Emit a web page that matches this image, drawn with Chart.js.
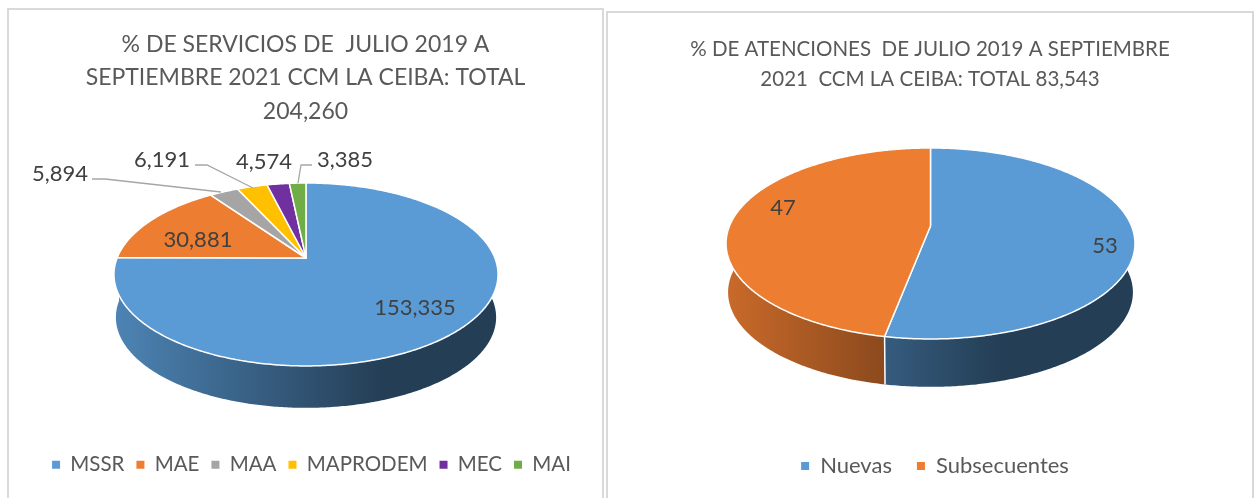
<!DOCTYPE html>
<html lang="es">
<head>
<meta charset="utf-8">
<title>CCM La Ceiba</title>
<style>
html,body{margin:0;padding:0;background:#fff;width:1256px;height:498px;overflow:hidden}
.panel{position:absolute;box-sizing:border-box;background:#fff;border:2px solid #d9d9d9;border-bottom:none}
canvas{display:block}
#p1{left:7px;top:8px;width:597px;height:490px}
#p2{left:606px;top:11px;width:648px;height:487px}
</style>
<script src="https://cdn.jsdelivr.net/npm/chart.js@4/dist/chart.umd.min.js"></script>
</head>
<body>
<div class="panel" id="p1"><canvas id="c1" width="593" height="490"></canvas></div>
<div class="panel" id="p2"><canvas id="c2" width="644" height="487"></canvas></div>
<script>
const serviceCategories = ["MSSR","MAE","MAA","MAPRODEM","MEC","MAI"];
const serviceValues = [153335,30881,5894,6191,4574,3385];
const serviceColors = ["#5B9BD5","#ED7D31","#A5A5A5","#FFC000","#7030A0","#70AD47"];
const serviceTitle = ["% DE SERVICIOS DE  JULIO 2019 A","SEPTIEMBRE 2021 CCM LA CEIBA: TOTAL","204,260"];
const visitCategories = ["Nuevas","Subsecuentes"];
const visitValues = [53,47];
const visitColors = ["#5B9BD5","#ED7D31"];
const visitTitle = ["% DE ATENCIONES  DE JULIO 2019 A SEPTIEMBRE","2021  CCM LA CEIBA: TOTAL 83,543"];

const FONT = "Lato";
const LABEL_COLOR = "#404040";
const TEXT_COLOR = "#595959";

function rgbOf(hex){return [1,3,5].map(i=>parseInt(hex.slice(i,i+2),16));}
function shade(hex,f){const c=rgbOf(hex).map(x=>Math.round(x*f));return `rgb(${c[0]},${c[1]},${c[2]})`;}

/* 3D look: each arc's own start/end angle is projected onto a tilted disc in perspective */
const pie3d = {
  id:"pie3d",
  beforeDatasetsDraw(chart,args,o){
    const ctx=chart.ctx, meta=chart.getDatasetMeta(0), arcs=meta.data, colors=chart.data.datasets[0].backgroundColor;
    const top=a=>{const u=Math.cos(a),v=Math.sin(a),w=1-o.p*v;return [o.cx+o.A*u/w,o.cy+o.B*v/w];};
    const bot=a=>{const t=top(a);return [o.cx+(t[0]-o.cx)*o.shrink,o.cy+(t[1]-o.cy)*o.shrink+o.depth];};
    const pts=(s,e,fn)=>{const n=Math.max(2,Math.ceil((e-s)/0.01)),r=[];for(let i=0;i<=n;i++)r.push(fn(s+(e-s)*i/n));return r;};
    ctx.save();
    ctx.lineJoin="round";
    /* side walls */
    arcs.forEach((arc,i)=>{
      const {startAngle:s,endAngle:e}=arc.getProps(["startAngle","endAngle"],true);
      const g=ctx.createLinearGradient(o.cx-o.rx,0,o.cx+o.rx,0);
      g.addColorStop(0,shade(colors[i],o.shadeL));
      g.addColorStop(o.shadeStop,shade(colors[i],o.shadeD));
      g.addColorStop(1,shade(colors[i],o.shadeD));
      const t=pts(s,e,top), b=pts(s,e,bot).reverse();
      ctx.beginPath();
      t.concat(b).forEach((q,k)=>k?ctx.lineTo(q[0],q[1]):ctx.moveTo(q[0],q[1]));
      ctx.closePath();
      ctx.fillStyle=g;ctx.fill();
    });
    /* white seam on the visible wall edges */
    arcs.forEach(arc=>{
      const {startAngle:s}=arc.getProps(["startAngle"],true);
      if(Math.sin(s)>o.p+0.02){
        const t=top(s),b=bot(s);
        ctx.beginPath();ctx.moveTo(t[0],t[1]);ctx.lineTo(b[0],b[1]);
        ctx.strokeStyle="#fff";ctx.lineWidth=1.5;ctx.stroke();
      }
    });
    /* top face */
    arcs.forEach((arc,i)=>{
      const {startAngle:s,endAngle:e}=arc.getProps(["startAngle","endAngle"],true);
      ctx.beginPath();ctx.moveTo(o.cx,o.cy);
      pts(s,e,top).forEach(q=>ctx.lineTo(q[0],q[1]));
      ctx.closePath();
      ctx.fillStyle=colors[i];ctx.fill();
      ctx.strokeStyle="#fff";ctx.lineWidth=1.5;ctx.stroke();
    });
    ctx.restore();
    return false;
  }
};

/* value labels + leader lines; label slots are in canvas px, text comes from the data */
const valueLabels = {
  id:"valueLabels",
  afterDraw(chart,args,o){
    const ctx=chart.ctx, vals=chart.data.datasets[0].data;
    ctx.save();
    ctx.font=`${o.size}px ${FONT}`;
    ctx.textAlign="center";ctx.textBaseline="middle";
    o.slots.forEach((sl,i)=>{
      if(sl.line){
        ctx.beginPath();
        sl.line.forEach((q,k)=>k?ctx.lineTo(q[0],q[1]):ctx.moveTo(q[0],q[1]));
        ctx.strokeStyle="#a6a6a6";ctx.lineWidth=1.3;ctx.stroke();
      }
      ctx.fillStyle=LABEL_COLOR;
      ctx.fillText(vals[i].toLocaleString("en-US"),sl.x,sl.y);
    });
    ctx.restore();
  }
};
const shiftLegend = {
  id:"shiftLegend",
  afterLayout(chart,args,o){ chart.legend.left+=o.dx; chart.legend.right+=o.dx; }
};

function makePie(id,labels,values,colors,title,cfg){
  return new Chart(document.getElementById(id),{
    type:"pie",
    data:{labels,datasets:[{data:values,backgroundColor:colors,borderWidth:0}]},
    plugins:[pie3d,valueLabels,shiftLegend],
    options:{
      responsive:false,animation:false,
      layout:{padding:cfg.padding},
      plugins:{
        title:{display:true,text:title,color:TEXT_COLOR,align:"center",position:"top",
          font:{family:FONT,size:cfg.titleSize,weight:"normal",lineHeight:cfg.titleLH},padding:{top:cfg.titleTop,bottom:0}},
        legend:{display:true,position:"bottom",align:"center",
          labels:{color:TEXT_COLOR,boxWidth:8,boxHeight:8,padding:cfg.legendPad,font:{family:FONT,size:cfg.legendSize}}},
        tooltip:{enabled:false},
        pie3d:cfg.pie,
        valueLabels:cfg.labels,
        shiftLegend:{dx:cfg.legendDx}
      }
    }
  });
}

/* coordinates below are canvas-local: canvas1 origin (9,10), canvas2 origin (608,13) */
makePie("c1",serviceCategories,serviceValues,serviceColors,serviceTitle,{
  padding:{top:0,left:0,right:0,bottom:15},
  titleSize:23,titleLH:1.45,titleTop:18,legendSize:20.5,legendPad:12,legendDx:6,
  pie:{cx:297,cy:248,A:188.9,B:88.5,p:0.18,rx:192,shrink:0.99,depth:43,shadeL:0.85,shadeD:0.4,shadeStop:0.7},
  labels:{size:22,slots:[
    {x:406,y:298},
    {x:189,y:230},
    {x:51,y:164,line:[[83,169],[96,169],[212,182]]},
    {x:153,y:150,line:[[186,155],[198,155],[244,178]]},
    {x:255,y:152},
    {x:336,y:150,line:[[303,155],[292,155],[289,173]]}
  ]}
});
makePie("c2",visitCategories,visitValues,visitColors,visitTitle,{
  padding:{top:0,left:0,right:0,bottom:13},
  titleSize:20.5,titleLH:1.46,titleTop:21,legendSize:22,legendPad:25,legendDx:5,
  pie:{cx:322.5,cy:213,A:201,B:92.3,p:0.183,rx:204.5,shrink:0.99,depth:49,shadeL:0.85,shadeD:0.4,shadeStop:0.67},
  labels:{size:22,slots:[{x:497,y:233},{x:175,y:195}]}
});
</script>
</body>
</html>
